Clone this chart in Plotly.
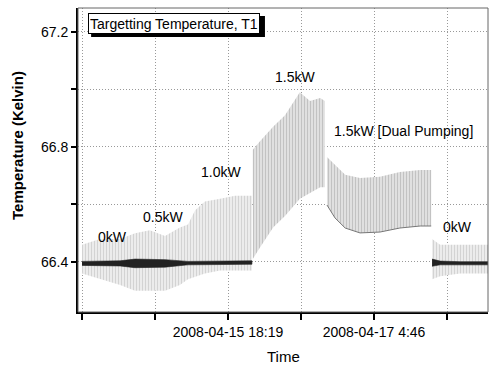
import pandas as pd
import plotly.graph_objects as go

# ---------------- data ----------------
T0 = pd.Timestamp("2008-04-14 07:52")

# Segment A: 0kW / 0.5kW / 1.0kW (outer scatter envelope)
a_hours = [0, 4.25, 9.0, 12.5, 16.0, 19.6, 23.1, 25.0, 26.7, 29.0, 32.6, 36.1, 40.1]
a_hi = [66.46, 66.48, 66.48, 66.50, 66.51, 66.49, 66.52, 66.53, 66.58, 66.61, 66.62, 66.63, 66.63]
a_lo = [66.36, 66.34, 66.32, 66.30, 66.30, 66.30, 66.32, 66.34, 66.35, 66.36, 66.37, 66.37, 66.37]

# Segment A: dense dark core
ac_hours = [0, 9.0, 12.5, 19.6, 25.0, 32.6, 40.1]
ac_hi = [66.402, 66.404, 66.41, 66.408, 66.402, 66.402, 66.404]
ac_lo = [66.388, 66.386, 66.38, 66.382, 66.39, 66.39, 66.392]

# Segment B: 1.5kW
b_hours = [40.3, 42.0, 45.1, 47.9, 51.4, 53.8, 56.2, 57.3]
b_hi = [66.79, 66.82, 66.87, 66.91, 66.99, 66.96, 66.97, 66.96]
b_lo = [66.41, 66.45, 66.52, 66.56, 66.62, 66.64, 66.66, 66.66]

# Segment C: 1.5kW [Dual Pumping]
c_hours = [57.8, 59.7, 62.1, 65.6, 70.3, 75.0, 79.8, 82.4]
c_hi = [66.765, 66.737, 66.703, 66.692, 66.696, 66.713, 66.72, 66.72]
c_lo = [66.598, 66.553, 66.518, 66.501, 66.504, 66.518, 66.525, 66.525]

# Segment D: 0kW again
d_hours = [82.6, 84.5, 89.2, 95.8]
d_hi = [66.48, 66.46, 66.46, 66.46]
d_lo = [66.34, 66.35, 66.36, 66.36]
dc_hi = [66.41, 66.403, 66.401, 66.401]
dc_lo = [66.385, 66.39, 66.39, 66.39]

tick_hours = [0, 17.225, 34.45, 51.675, 68.9, 86.125]
tick_text = ["", "", "2008-04-15 18:19", "", "2008-04-17 4:46", ""]

labels = ["0kW", "0.5kW", "1.0kW", "1.5kW", "1.5kW [Dual Pumping]", "0kW"]
label_hours = [7.1, 19.1, 32.8, 50.3, 59.0, 88.5]
label_vals = [66.487, 66.557, 66.713, 67.043, 66.856, 66.522]
label_anchor = ["center", "center", "center", "center", "left", "center"]

# ---------------------------------------------------------------
def ts(hours):
    return [T0 + pd.Timedelta(hours=h) for h in hours]

FONT = "Liberation Sans, Arial, sans-serif"
fig = go.Figure()

def band(hours, hi, lo, bg, fg, density):
    t = ts(hours)
    fig.add_trace(go.Scatter(
        x=t + t[::-1], y=list(hi) + list(lo)[::-1],
        fill="toself", mode="lines",
        line=dict(width=0, color="rgba(0,0,0,0)"),
        fillcolor=bg,
        fillpattern=dict(shape="|", size=3, solidity=density, fgcolor=fg, bgcolor=bg),
        hoverinfo="skip", showlegend=False))

band(a_hours, a_hi, a_lo, "#ececec", "#b4b4b4", 0.3)
band(b_hours, b_hi, b_lo, "#e0e0e0", "#a4a4a4", 0.35)
band(c_hours, c_hi, c_lo, "#e0e0e0", "#a4a4a4", 0.35)
band(d_hours, d_hi, d_lo, "#ececec", "#b4b4b4", 0.3)

def core(hours, hi, lo):
    t = ts(hours)
    fig.add_trace(go.Scatter(
        x=t + t[::-1], y=list(hi) + list(lo)[::-1],
        fill="toself", mode="lines", line=dict(width=0.6, color="#222"),
        fillcolor="#222", hoverinfo="skip", showlegend=False))

core(ac_hours, ac_hi, ac_lo)
core(d_hours, dc_hi, dc_lo)

# darker lower edge of dual-pumping segment
fig.add_trace(go.Scatter(x=ts(c_hours), y=c_lo, mode="lines",
                         line=dict(color="#777", width=1),
                         hoverinfo="skip", showlegend=False))

for txt, h, v, anc in zip(labels, label_hours, label_vals, label_anchor):
    fig.add_annotation(x=T0 + pd.Timedelta(hours=h), y=v, text=txt, showarrow=False,
                       xanchor=anc, yanchor="middle",
                       font=dict(family=FONT, size=14, color="black"))

# title box with drop shadow
fig.add_shape(type="rect", xref="paper", yref="paper",
              x0=0.032, x1=0.456, y0=0.905, y1=0.974,
              fillcolor="black", line=dict(width=0), layer="above")
fig.add_annotation(xref="paper", yref="paper", x=0.0244, y=0.9836,
                   xanchor="left", yanchor="top", showarrow=False,
                   text="Targetting Temperature, T1", width=168, height=17, align="left",
                   font=dict(family=FONT, size=14, color="black"),
                   bgcolor="white", bordercolor="black", borderwidth=1, borderpad=1)

# thin frame
fig.add_shape(type="rect", xref="paper", yref="paper", x0=0, x1=1, y0=0, y1=1,
              line=dict(color="#666", width=1), layer="above")

# axis titles
fig.add_annotation(xref="paper", yref="paper", x=(283 - 78) / 410, y=(312 - 356) / 304,
                   text="Time", showarrow=False, xanchor="center", yanchor="middle",
                   font=dict(family=FONT, size=15, color="black"))
fig.add_annotation(xref="paper", yref="paper", x=(17 - 78) / 410, y=(312 - 146) / 304,
                   text="<b>Temperature (Kelvin)</b>", textangle=-90, showarrow=False,
                   xanchor="center", yanchor="middle",
                   font=dict(family=FONT, size=15, color="black"))

fig.update_layout(
    width=489, height=367,
    margin=dict(l=78, r=1, t=8, b=55),
    paper_bgcolor="white", plot_bgcolor="white",
    font=dict(family=FONT, size=14, color="black"),
    showlegend=False,
)
fig.update_xaxes(
    range=[T0 - pd.Timedelta(hours=0.944), T0 + pd.Timedelta(hours=95.8)],
    tickvals=ts(tick_hours), ticktext=tick_text,
    ticks="outside", ticklen=6, tickwidth=1.5, tickcolor="black",
    showline=True, linecolor="black", linewidth=2,
    showgrid=True, gridcolor="#999", griddash="1px,2px", gridwidth=1,
    zeroline=False,
    tickfont=dict(family=FONT, size=14, color="black"),
)
fig.update_yaxes(
    range=[66.226, 67.283],
    tickvals=[66.4, 66.6, 66.8, 67.0, 67.2],
    ticktext=["66.4", "", "66.8", "", "67.2"],
    ticks="outside", ticklen=5, tickwidth=1.5, tickcolor="black",
    showline=True, linecolor="black", linewidth=2,
    showgrid=True, gridcolor="#999", griddash="1px,2px", gridwidth=1,
    zeroline=False,
    tickfont=dict(family=FONT, size=14, color="black"),
)

fig.write_html("out.html", config={"displayModeBar": False},
               post_script="document.body.style.margin='0';document.body.style.overflow='hidden';")
